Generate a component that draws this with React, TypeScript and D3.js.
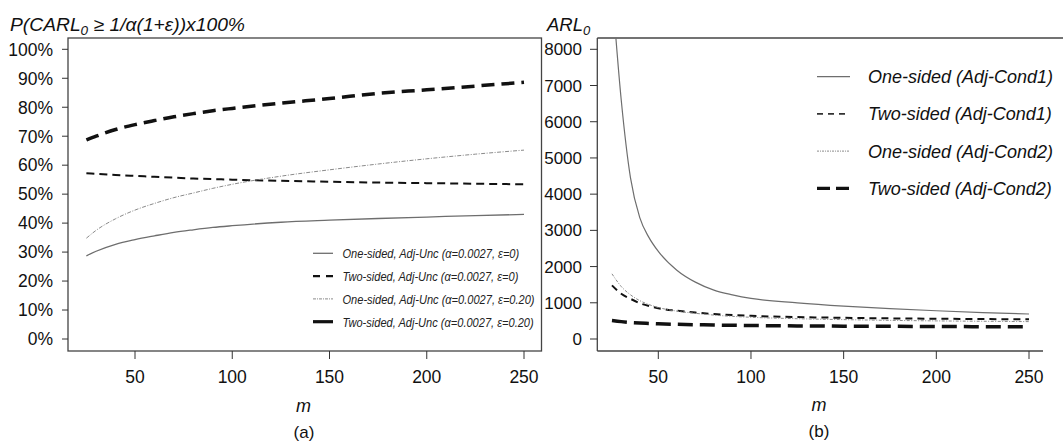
import React from "react";
import * as d3 from "d3";

// ---------- Data ----------
const mLeft = [25, 30, 40, 50, 60, 70, 80, 90, 100, 125, 150, 175, 200, 225, 250];
const oneSidedEps0 = [28.7, 30.3, 32.7, 34.3, 35.6, 36.8, 37.7, 38.5, 39.1, 40.3, 41.0, 41.6, 42.1, 42.6, 43.0];
const twoSidedEps0 = [57.2, 57.0, 56.6, 56.3, 56.0, 55.7, 55.4, 55.2, 55.0, 54.6, 54.3, 54.0, 53.8, 53.6, 53.4];
const oneSidedEps20 = [34.8, 37.5, 41.5, 44.5, 46.8, 48.8, 50.4, 52.0, 53.4, 56.2, 58.4, 60.4, 62.2, 63.8, 65.2];
const twoSidedEps20 = [68.7, 70.0, 72.3, 74.0, 75.4, 76.7, 77.8, 78.8, 79.6, 81.4, 83.0, 84.8, 86.0, 87.3, 88.6];

const mRight = [25, 30, 35, 40, 45, 50, 60, 70, 80, 90, 100, 125, 150, 175, 200, 225, 250];
const oneSidedCond1 = [9700, 6600, 4450, 3350, 2800, 2420, 1900, 1570, 1350, 1220, 1120, 1000, 910, 840, 780, 730, 690];
const twoSidedCond1 = [1480, 1250, 1110, 990, 910, 850, 780, 730, 690, 660, 640, 605, 585, 570, 560, 550, 545];
const oneSidedCond2 = [1800, 1450, 1220, 1060, 950, 870, 770, 710, 660, 625, 600, 560, 535, 515, 500, 490, 480];
const twoSidedCond2 = [510, 480, 455, 440, 430, 420, 405, 395, 385, 378, 372, 362, 355, 350, 345, 340, 337];

const xTicks = [50, 100, 150, 200, 250];
const pctTicks = [0, 10, 20, 30, 40, 50, 60, 70, 80, 90, 100];
const arlTicks = [0, 1000, 2000, 3000, 4000, 5000, 6000, 7000, 8000];

const leftLegend = [
  "One-sided, Adj-Unc (α=0.0027, ε=0)",
  "Two-sided, Adj-Unc (α=0.0027, ε=0)",
  "One-sided, Adj-Unc (α=0.0027, ε=0.20)",
  "Two-sided, Adj-Unc (α=0.0027, ε=0.20)",
];
const rightLegend = [
  "One-sided (Adj-Cond1)",
  "Two-sided (Adj-Cond1)",
  "One-sided (Adj-Cond2)",
  "Two-sided (Adj-Cond2)",
];

// ---------- Styles ----------
const FONT = "'Liberation Sans', Arial, sans-serif";
const styles = [
  { stroke: "#6e6e6e", width: 1.3, dash: "" },
  { stroke: "#111", width: 2, dash: "8,5" },
  { stroke: "#8a8a8a", width: 1, dash: "4,1.5,1,1.5" },
  { stroke: "#111", width: 3.5, dash: "13,7" },
];
const stylesR = [
  { stroke: "#6e6e6e", width: 1.2, dash: "" },
  { stroke: "#111", width: 2, dash: "7,5" },
  { stroke: "#8a8a8a", width: 1, dash: "3,1.5,1,1.5" },
  { stroke: "#111", width: 3.5, dash: "15,7" },
];
const legendSampleL = [
  { stroke: "#6e6e6e", width: 1.3, dash: "" },
  { stroke: "#111", width: 2.2, dash: "7,6" },
  { stroke: "#8a8a8a", width: 1, dash: "3,1,1,1" },
  { stroke: "#111", width: 3.2, dash: "" },
];
const legendSampleR = [
  { stroke: "#6e6e6e", width: 1.2, dash: "" },
  { stroke: "#333", width: 1.6, dash: "6,5" },
  { stroke: "#8a8a8a", width: 1, dash: "2,1,1,1" },
  { stroke: "#111", width: 3.2, dash: "13,6" },
];

export default function App() {
  const xL = d3.scaleLinear().domain([50, 250]).range([135, 524]);
  const yL = d3.scaleLinear().domain([0, 100]).range([339, 49.3]);
  const xR = d3.scaleLinear().domain([50, 250]).range([658.3, 1029]);
  const yR = d3.scaleLinear().domain([0, 8000]).range([339, 49.3]);

  const lineL = (vals: number[]) =>
    d3.line<number>().x((_, i) => xL(mLeft[i])).y((v) => yL(v)).curve(d3.curveMonotoneX)(vals) || "";
  const lineR = (vals: number[]) =>
    d3.line<number>().x((_, i) => xR(mRight[i])).y((v) => yR(v)).curve(d3.curveMonotoneX)(vals) || "";

  const leftSeries = [oneSidedEps0, twoSidedEps0, oneSidedEps20, twoSidedEps20];
  const rightSeries = [oneSidedCond1, twoSidedCond1, oneSidedCond2, twoSidedCond2];

  const boxL = { x0: 68, y0: 38, x1: 541.5, y1: 351 };
  const boxR = { x0: 597.3, y0: 38, x1: 1080, y1: 351 };

  return (
    <svg width={1063} height={443} style={{ position: "absolute", left: 0, top: 0, background: "#fff" }}
      fontFamily={FONT}>
      <rect x={0} y={0} width={1063} height={443} fill="#fff" />
      <defs>
        <clipPath id="clipR">
          <rect x={boxR.x0} y={boxR.y0} width={boxR.x1 - boxR.x0} height={boxR.y1 - boxR.y0} />
        </clipPath>
      </defs>

      {/* ---------- LEFT PANEL ---------- */}
      <rect x={boxL.x0} y={boxL.y0} width={boxL.x1 - boxL.x0} height={boxL.y1 - boxL.y0}
        fill="none" stroke="#444" strokeWidth={1.3} />
      {pctTicks.map((t) => (
        <g key={"yl" + t}>
          <line x1={62} x2={boxL.x0} y1={yL(t)} y2={yL(t)} stroke="#333" strokeWidth={1} />
          <text x={53} y={yL(t)} dy="0.36em" textAnchor="end" fontSize={17.5} fill="#111">{t + "%"}</text>
        </g>
      ))}
      {xTicks.map((t) => (
        <g key={"xl" + t}>
          <line x1={xL(t)} x2={xL(t)} y1={boxL.y1} y2={359} stroke="#333" strokeWidth={1} />
          <text x={xL(t)} y={383} textAnchor="middle" fontSize={17.5} fill="#111">{t}</text>
        </g>
      ))}
      {leftSeries.map((s, i) => (
        <path key={"ls" + i} d={lineL(s)} fill="none" stroke={styles[i].stroke}
          strokeWidth={styles[i].width} strokeDasharray={styles[i].dash} />
      ))}
      {leftLegend.map((lab, i) => {
        const y = 253.3 + i * 22.8;
        const st = legendSampleL[i];
        return (
          <g key={"ll" + i}>
            <line x1={313} x2={333} y1={y} y2={y} stroke={st.stroke} strokeWidth={st.width} strokeDasharray={st.dash} />
            <text transform={`translate(342.5,${y}) scale(0.82,1)`} x={0} y={0} dy="0.36em"
              fontSize={13.5} fontStyle="italic" fill="#222">{lab}</text>
          </g>
        );
      })}
      <text x={10} y={31} fontSize={18.5} fontStyle="italic" fill="#111" textLength={235} lengthAdjust="spacingAndGlyphs">
        P(CARL<tspan fontSize={13} dy={4}>0</tspan><tspan dy={-4}> ≥ 1/α(1+ε))x100%</tspan>
      </text>
      <text x={303.5} y={412} textAnchor="middle" fontSize={18} fontStyle="italic" fill="#111">m</text>
      <text x={304} y={438} textAnchor="middle" fontSize={17} fill="#111">(a)</text>

      {/* ---------- RIGHT PANEL ---------- */}
      <line x1={boxR.x0} x2={1063} y1={boxR.y0} y2={boxR.y0} stroke="#444" strokeWidth={1.3} />
      <line x1={boxR.x0} x2={boxR.x0} y1={boxR.y0} y2={boxR.y1} stroke="#444" strokeWidth={1.3} />
      <line x1={boxR.x0} x2={1043} y1={boxR.y1} y2={boxR.y1} stroke="#444" strokeWidth={1.3} />
      {arlTicks.map((t) => (
        <g key={"yr" + t}>
          <line x1={590} x2={boxR.x0} y1={yR(t)} y2={yR(t)} stroke="#333" strokeWidth={1} />
          <text x={582} y={yR(t)} dy="0.36em" textAnchor="end" fontSize={17} fill="#111">{t}</text>
        </g>
      ))}
      {xTicks.map((t) => (
        <g key={"xr" + t}>
          <line x1={xR(t)} x2={xR(t)} y1={boxR.y1} y2={359} stroke="#333" strokeWidth={1} />
          <text x={xR(t)} y={383} textAnchor="middle" fontSize={17.5} fill="#111">{t}</text>
        </g>
      ))}
      <g clipPath="url(#clipR)">
        {rightSeries.map((s, i) => (
          <path key={"rs" + i} d={lineR(s)} fill="none" stroke={stylesR[i].stroke}
            strokeWidth={stylesR[i].width} strokeDasharray={stylesR[i].dash} />
        ))}
      </g>
      {rightLegend.map((lab, i) => {
        const y = 76.7 + i * 37.2;
        const st = legendSampleR[i];
        return (
          <g key={"rl" + i}>
            <line x1={817} x2={850} y1={y} y2={y} stroke={st.stroke} strokeWidth={st.width} strokeDasharray={st.dash} />
            <text x={868} y={y} dy="0.36em" fontSize={18} fontStyle="italic" fill="#111">{lab}</text>
          </g>
        );
      })}
      <text x={547} y={31} fontSize={18.5} fontStyle="italic" fill="#111">
        ARL<tspan fontSize={13} dy={4}>0</tspan>
      </text>
      <text x={819} y={411} textAnchor="middle" fontSize={18} fontStyle="italic" fill="#111">m</text>
      <text x={819} y={437} textAnchor="middle" fontSize={17} fill="#111">(b)</text>
    </svg>
  );
}
